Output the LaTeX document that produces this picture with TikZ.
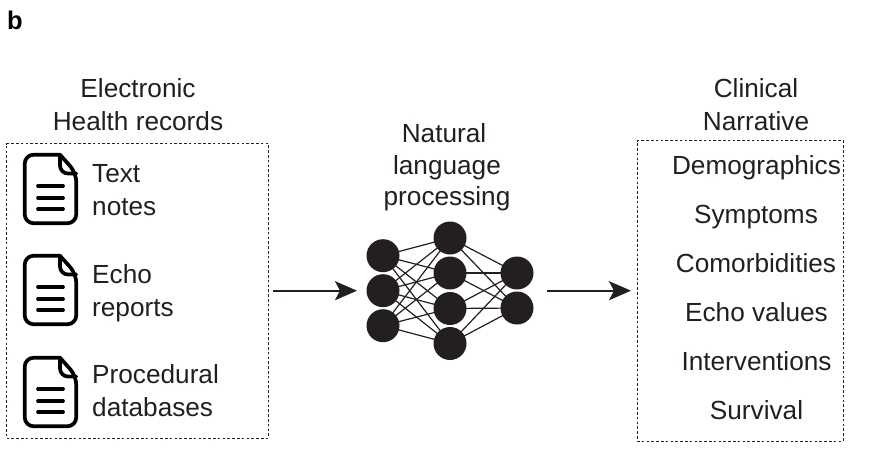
\documentclass[tikz,border=0pt]{standalone}
\usepackage{fontspec}
\setmainfont{Liberation Sans}
\usetikzlibrary{arrows.meta}
\definecolor{ink}{HTML}{231F20}
\tikzset{
  x=1pt,y=-1pt,
  lab/.style={text=ink,font=\fontsize{26.2}{32.5}\selectfont,align=center,inner sep=0pt,anchor=base},
  labl/.style={lab,align=left,anchor=base west},
  dotbox/.style={draw=ink,line width=0.9pt,dash pattern=on 2.6pt off 2.2pt},
  neuron/.style={circle,fill=ink,minimum size=33pt,inner sep=0pt},
  syn/.style={draw=ink,line width=1.2pt},
  flow/.style={draw=ink,line width=2.2pt,-{Stealth[length=22pt,width=19pt,inset=5pt]}},
  docline/.style={draw=black,line width=3.7pt,line cap=round,line join=round}
}
\newcommand{\docicon}[1]{%
  \begin{scope}[shift={(0,#1)}]
    \draw[docline,rounded corners=9pt] (60,1.7) -- (24.7,1.7) -- (24.7,70.3) -- (76.3,70.3) -- (76.3,20) [sharp corners] -- (60,1.7);
    \draw[docline,rounded corners=8pt] (60,1.7) -- (60,20.5) -- (76.3,20.5);
    \draw[docline] (38,33) -- (63,33);
    \draw[docline] (38,45) -- (63,45);
    \draw[docline] (38,56) -- (63,56);
  \end{scope}}
\begin{document}
\begin{tikzpicture}
\useasboundingbox (0,0) rectangle (883,450);
\node[text=black,font=\fontsize{25.5}{30}\bfseries\selectfont,inner sep=0pt,anchor=base west] (panel) at (7,29) {b};

\node[lab] (ehr) at (138,130) {Electronic\\Health records};
\node[dotbox,minimum width=262pt,minimum height=294.5pt,inner sep=0pt] (leftbox) at (137.5,290.75) {};
\docicon{153}
\docicon{254}
\docicon{356}
\node[labl] (t1) at (92,215) {Text\\notes};
\node[labl] (t2) at (92,316) {Echo\\reports};
\node[labl] (t3) at (92,416) {Procedural\\databases};

\node[lab,font=\fontsize{26.2}{31.5}\selectfont] (nlp) at (447,205.5) {\hspace*{-6pt}Natural\\language\\processing};

\foreach \n/\x/\y in {a1/383/255.7,a2/383/290.7,a3/383/325.7,b1/450/238,b2/450/273,b3/450/308.5,b4/450/343.5,c1/517/273,c2/517/308}
  \node[neuron] (\n) at (\x,\y) {};
\foreach \a in {a1,a2,a3} \foreach \b in {b1,b2,b3,b4}
  \draw[syn] (\a.center) -- (\b.center);
\foreach \b in {b1,b2,b3,b4} \foreach \c in {c1,c2}
  \draw[syn] (\b.center) -- (\c.center);

\coordinate (in1) at (273,290.7);
\coordinate (in2) at (357,290.7);
\coordinate (out1) at (547,290.7);
\coordinate (out2) at (631,290.7);
\draw[flow] (in1) -- (in2);
\draw[flow] (out1) -- (out2);

\node[lab] (cn) at (756,130) {Clinical\\Narrative};
\node[dotbox,minimum width=206pt,minimum height=300.5pt,inner sep=0pt] (rightbox) at (740,290.75) {};
\node[lab] (r1) at (756.5,174) {Demographics};
\node[lab] (r2) at (756,223) {Symptoms};
\node[lab] (r3) at (756,272) {Comorbidities};
\node[lab] (r4) at (756.5,321) {Echo values};
\node[lab] (r5) at (756.5,370) {Interventions};
\node[lab] (r6) at (756.5,419) {Survival};
\end{tikzpicture}
\end{document}
